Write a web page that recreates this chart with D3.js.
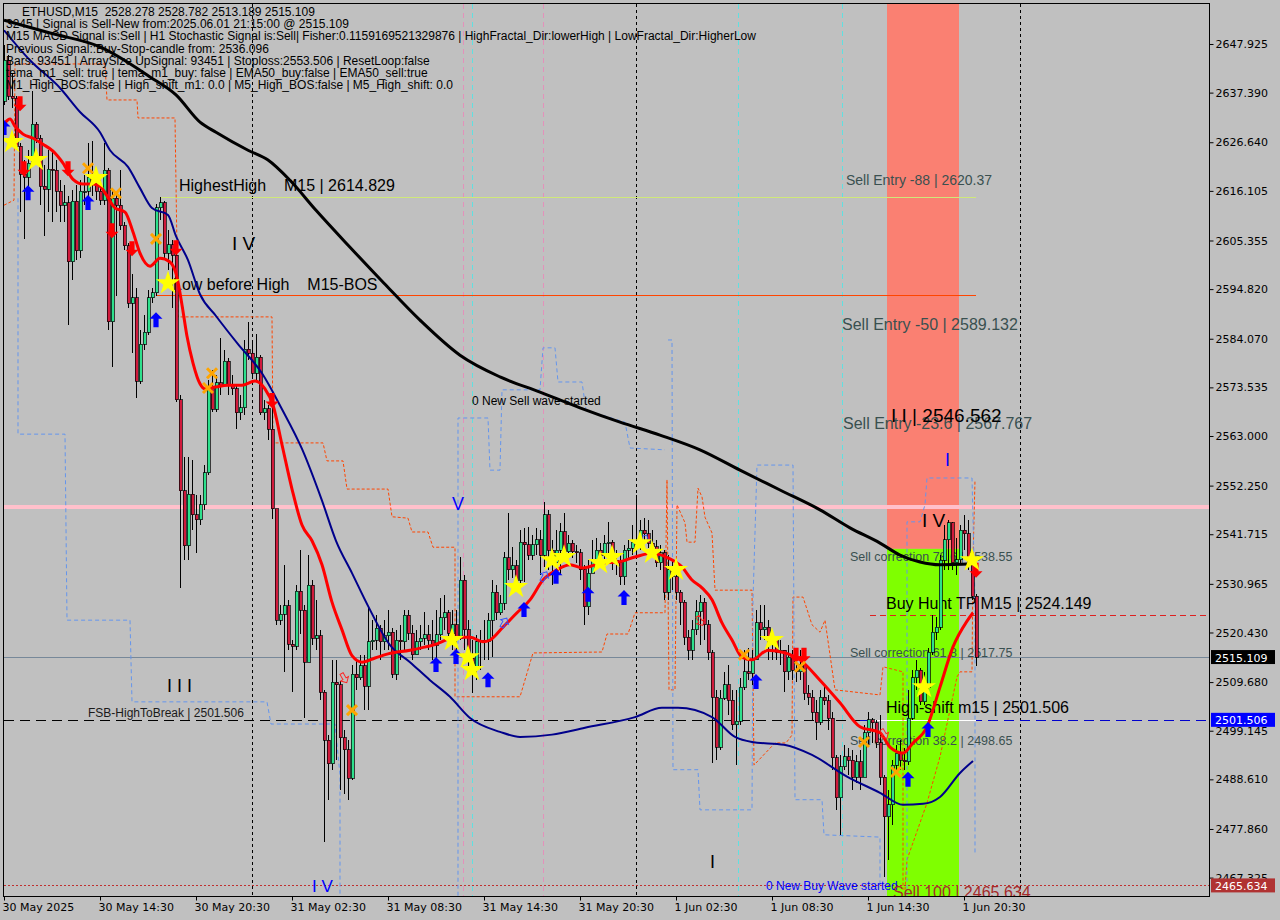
<!DOCTYPE html>
<html><head><meta charset="utf-8">
<script src="https://cdn.jsdelivr.net/npm/d3@7"></script>
<style>
html,body{margin:0;padding:0;background:#c0c0c0;}
svg{display:block;}
text{white-space:pre;}
</style></head>
<body><svg id="c" width="1280" height="920"></svg>
<script>
// ---------------- DATA ----------------
const firstOpen = 2635.5;
const closes = [2644.4,2636.6,2636.2,2625.8,2619.7,2619.1,2622.1,2630.5,2627.5,2617.1,
2616.5,2620.8,2620.6,2616.0,2613.0,2613.5,2600.7,2613.9,2603.1,2616.0,
2616.0,2619.1,2617.6,2616.0,2614.1,2620.6,2587.7,2614.5,2613.0,2608.5,
2604.2,2591.8,2592.9,2574.9,2582.9,2585.5,2592.9,2594.0,2612.4,2613.5,
2602.6,2604.4,2602.2,2570.8,2551.1,2539.2,2550.4,2545.9,2544.8,2548.1,
2555.0,2573.2,2568.8,2574.5,2574.0,2579.2,2574.0,2573.2,2568.0,2569.1,
2581.8,2580.9,2576.6,2580.1,2568.0,2568.9,2564.5,2547.2,2523.1,2524.4,
2526.2,2517.9,2517.5,2529.4,2525.3,2514.0,2530.7,2519.2,2519.7,2507.5,
2497.1,2492.0,2509.7,2509.1,2497.6,2495.0,2488.9,2511.4,2510.6,2513.2,
2508.8,2518.4,2518.8,2521.4,2518.4,2519.7,2520.5,2511.4,2518.8,2518.4,
2524.2,2520.3,2515.6,2518.4,2519.2,2519.9,2518.8,2517.7,2519.9,2523.6,
2524.7,2520.3,2522.1,2519.2,2531.8,2521.0,2514.9,2513.0,2518.4,2518.8,
2518.4,2523.1,2529.2,2524.7,2526.8,2536.6,2534.0,2534.9,2531.8,2540.0,
2539.4,2537.2,2539.4,2540.5,2537.2,2545.9,2538.3,2535.7,2538.3,2542.2,
2537.9,2539.8,2537.9,2537.7,2534.0,2526.0,2533.3,2536.1,2538.3,2537.2,
2539.8,2540.0,2536.1,2535.5,2532.5,2538.3,2538.7,2540.0,2539.4,2542.6,
2541.8,2539.8,2539.0,2535.5,2537.7,2529.2,2534.0,2532.5,2529.2,2527.0,
2519.4,2516.6,2521.0,2524.9,2527.0,2522.1,2516.0,2506.4,2495.6,2506.2,
2509.1,2505.8,2500.4,2501.2,2508.6,2511.9,2511.6,2514.5,2522.5,2521.0,
2521.6,2518.2,2518.8,2516.2,2516.6,2511.9,2515.1,2512.3,2511.9,2513.4,
2507.3,2506.4,2503.2,2501.0,2506.4,2505.6,2501.9,2493.3,2484.6,2491.3,
2493.5,2492.7,2489.1,2492.4,2489.1,2498.7,2501.5,2500.9,2496.5,2489.1,
2480.5,2483.1,2491.7,2494.3,2492.8,2492.4,2501.9,2510.6,2512.3,2505.4,
2508.6,2516.2,2520.5,2521.6,2536.1,2540.5,2544.2,2535.5,2536.2,2542.6,
2541.8,2535.1,2528.3,2515.109];
const highs = [2647.7,2645.5,2641.4,2636.6,2626.4,2622.8,2624.9,2637.7,2631.0,2628.2,
2621.7,2624.9,2624.9,2622.8,2618.4,2617.4,2615.0,2616.3,2617.4,2618.4,
2619.5,2626.4,2626.9,2619.5,2618.4,2626.4,2621.0,2616.3,2615.8,2620.6,
2609.3,2604.8,2598.1,2595.0,2585.9,2589.2,2594.6,2595.0,2613.3,2614.8,
2614.0,2607.6,2605.5,2603.0,2571.9,2558.4,2558.4,2557.8,2550.2,2550.2,
2556.7,2575.1,2577.3,2576.2,2584.2,2581.6,2579.9,2576.2,2574.0,2571.9,
2583.8,2587.7,2583.8,2585.1,2580.5,2570.8,2569.7,2571.4,2547.2,2526.4,
2535.1,2527.5,2518.8,2530.7,2538.3,2526.4,2537.2,2531.8,2527.5,2521.0,
2508.0,2498.2,2514.5,2514.5,2510.0,2499.3,2497.1,2513.4,2514.5,2515.6,
2515.6,2525.7,2523.1,2524.2,2522.1,2523.1,2525.3,2521.4,2521.0,2522.1,
2525.3,2525.3,2522.1,2521.0,2522.1,2524.9,2522.1,2523.1,2525.3,2527.9,
2528.6,2525.3,2525.3,2525.3,2536.8,2532.9,2523.1,2518.8,2519.9,2521.0,
2523.1,2524.6,2531.8,2530.7,2528.6,2537.9,2546.3,2538.9,2536.1,2542.6,
2543.1,2543.3,2541.6,2543.1,2542.6,2548.7,2547.0,2540.5,2542.6,2544.1,
2546.3,2541.6,2540.5,2539.4,2538.5,2535.1,2536.1,2540.5,2540.9,2539.8,
2541.6,2544.4,2540.5,2538.3,2537.2,2539.4,2540.5,2543.7,2550.2,2544.8,
2545.2,2544.8,2542.6,2540.5,2539.4,2538.3,2537.2,2536.1,2534.0,2529.6,
2527.5,2521.0,2523.1,2527.5,2528.6,2527.9,2523.1,2516.6,2508.0,2508.0,
2511.9,2513.4,2508.0,2508.0,2510.6,2516.6,2517.1,2516.6,2525.3,2526.4,
2526.4,2523.1,2521.0,2518.8,2518.8,2516.6,2517.7,2516.6,2515.6,2516.6,
2513.4,2509.1,2508.0,2505.8,2508.0,2509.1,2506.9,2503.2,2493.9,2493.9,
2496.1,2495.4,2495.0,2493.9,2495.0,2500.4,2503.2,2501.9,2501.5,2502.6,
2489.6,2486.3,2492.8,2496.1,2497.1,2495.4,2508.0,2512.3,2514.5,2512.7,
2511.9,2517.1,2524.2,2523.8,2537.2,2543.7,2544.8,2544.4,2540.9,2543.7,
2545.9,2544.8,2536.1,2528.782];
const lows = [2634.7,2635.8,2634.0,2624.9,2611.5,2605.6,2614.5,2621.7,2626.4,2613.0,
2606.3,2611.5,2609.3,2611.5,2609.3,2609.3,2587.0,2596.8,2601.1,2601.5,
2613.0,2613.0,2615.0,2614.1,2613.0,2613.0,2586.0,2577.9,2593.3,2607.6,
2603.3,2590.7,2581.0,2571.2,2574.2,2581.6,2584.9,2591.8,2593.3,2609.8,
2601.5,2598.9,2590.7,2570.3,2530.1,2536.1,2536.1,2542.6,2537.6,2543.7,
2547.0,2554.6,2568.2,2568.2,2571.9,2574.0,2571.9,2571.9,2564.5,2566.5,
2567.5,2579.5,2575.5,2575.1,2567.5,2566.5,2562.1,2545.0,2522.1,2522.1,
2511.9,2516.6,2507.5,2516.6,2520.1,2501.9,2514.0,2517.7,2516.6,2505.8,
2475.1,2484.2,2490.7,2492.8,2486.3,2485.5,2484.2,2488.5,2508.0,2510.1,
2503.6,2503.6,2516.6,2516.6,2514.5,2516.6,2516.6,2510.6,2510.1,2514.5,
2516.6,2518.8,2514.5,2515.6,2516.6,2517.7,2516.6,2514.5,2514.5,2518.8,
2521.0,2518.8,2516.6,2514.5,2518.8,2516.6,2511.9,2507.3,2510.1,2512.3,
2514.5,2514.5,2515.1,2523.1,2524.2,2525.3,2531.8,2532.2,2530.7,2530.7,
2531.4,2536.1,2536.1,2537.2,2532.9,2534.6,2534.0,2530.7,2531.4,2532.9,
2536.1,2537.2,2536.6,2535.5,2531.8,2522.1,2524.2,2533.3,2534.0,2535.7,
2536.1,2537.2,2534.0,2532.9,2530.7,2530.7,2536.6,2537.2,2537.2,2538.3,
2540.5,2538.7,2537.2,2534.6,2534.0,2527.5,2527.5,2529.6,2527.5,2522.1,
2517.7,2514.5,2514.5,2519.9,2517.7,2518.8,2514.5,2492.2,2492.8,2495.0,
2505.8,2502.6,2499.3,2491.7,2500.4,2508.0,2510.1,2509.1,2514.5,2518.8,
2518.8,2514.5,2514.5,2514.5,2513.4,2507.5,2510.1,2510.1,2509.7,2510.1,
2505.8,2504.7,2501.5,2497.1,2500.4,2504.7,2499.3,2490.7,2482.0,2476.6,
2490.7,2489.6,2486.3,2487.8,2486.3,2491.7,2496.1,2496.5,2495.4,2487.4,
2467.5,2471.2,2478.7,2490.7,2490.7,2490.7,2491.7,2501.5,2508.0,2504.7,
2504.7,2508.0,2515.6,2518.8,2521.0,2534.0,2534.0,2534.0,2532.9,2535.1,
2538.3,2534.0,2527.5,2513.189];

const priceTicks = [2647.925,2637.390,2626.640,2616.105,2605.355,2594.820,2584.070,2573.535,2563.000,
2552.250,2541.715,2530.965,2520.430,2509.680,2499.145,2488.610,2477.860,2467.325];
const timeTickBars = [0,24,48,72,96,120,144,168,192,216,240];
const timeLabels = ["30 May 2025","30 May 14:30","30 May 20:30","31 May 02:30","31 May 08:30",
"31 May 14:30","31 May 20:30","1 Jun 02:30","1 Jun 08:30","1 Jun 14:30","1 Jun 20:30"];
const daySeparatorBars = [62,158,254];
const pinkMarkerBars = [114.75,134.75];
const cyanMarkerBars = [117,183.5,209.5];

// moving averages as [bar, value]
const emaSlow = [[0,2653.1],[11.5,2650.3],[24,2647.3],[36.5,2640.8],[43,2636.9],[49,2631.0],[53,2628.8],
[61,2624.9],[66,2622.8],[71.5,2618.4],[78,2611.9],[86.5,2603.9],[95,2596.1],[104,2588.1],[114,2580.5],
[124,2575.8],[134,2572.5],[144,2569.1],[154,2566.0],[164,2563.2],[174,2560.0],[184,2555.6],[194,2551.3],
[204,2547.0],[211.5,2543.1],[219,2539.8],[224,2537.2],[229,2535.7],[234,2535.1],[242,2535.3]];
const emaMid = [[0,2650.9],[6.5,2644.4],[14,2638.4],[19,2633.2],[24,2628.8],[26.5,2624.9],[31,2621.3],
[34,2616.7],[37,2612.4],[41,2610.9],[43,2606.3],[46,2601.1],[49,2593.7],[53,2589.0],[58.5,2582.9],
[64.5,2576.6],[69.5,2568.8],[74.5,2560.2],[79.5,2549.0],[83,2540.3],[87,2533.3],[91,2526.2],
[96.5,2517.7],[101.5,2514.0],[106.5,2510.1],[111.5,2506.5],[116.5,2501.9],[124,2498.9],[129,2497.8],
[137,2498.3],[145.25,2499.8],[157.75,2502.1],[164.5,2504.1],[168.5,2504.1],[177,2502.1],[182.75,2497.8],
[187,2496.7],[195,2496.1],[202,2493.9],[210.75,2489.2],[219,2485.7],[224.75,2483.1],[229.75,2483.3],
[234,2484.8],[239,2490.0],[242.25,2492.6]];
const emaFast = [[0,2630.6],[1.5,2631.7],[2.75,2630.1],[4.75,2628.4],[7.25,2627.5],[9.75,2626.2],
[12.25,2624.7],[14.75,2622.1],[17.25,2618.6],[19.75,2617.6],[22.25,2617.6],[24,2617.1],[25.75,2615.0],
[27.75,2612.4],[30.25,2611.5],[32.25,2607.2],[34,2602.6],[36.5,2599.8],[39,2601.5],[41.5,2600.7],
[43.25,2597.4],[44.5,2591.4],[45.75,2584.6],[47.25,2578.8],[49,2574.3],[50.25,2573.2],[52.75,2573.6],
[56,2574.0],[59.5,2574.0],[62.75,2574.9],[65.25,2573.2],[67.25,2569.7],[69.5,2561.1],[72,2551.5],
[74.5,2543.7],[77,2540.3],[79.5,2535.1],[82,2527.0],[84.5,2521.0],[87,2515.4],[89.5,2514.0],
[92.75,2514.9],[96,2515.8],[101.5,2516.6],[107.25,2517.7],[113.25,2519.4],[116.5,2519.4],
[119.75,2518.4],[121.5,2518.8],[124.75,2521.6],[128.25,2524.7],[131.5,2527.5],[134.75,2531.8],
[138.25,2534.0],[141.5,2535.1],[144.75,2534.4],[149.5,2535.5],[153.5,2535.7],[157.75,2536.8],
[162,2537.6],[166,2536.6],[169.5,2534.6],[172,2531.8],[174.5,2530.1],[177,2527.5],[179.5,2522.5],
[182,2518.8],[184.5,2515.1],[187,2514.5],[191,2516.6],[195.25,2516.0],[199,2514.5],[204,2510.1],
[209,2505.2],[214,2500.0],[219,2498.7],[221.5,2495.6],[224.75,2494.3],[227.25,2496.5],[230.75,2500.0],
[234,2508.6],[237.25,2517.3],[240.75,2522.9],[242.25,2524.7]];

// step bands [bar, price]
const orangeStepsA = [[0,2613.0],[2.5,2614.1],[2.75,2643.6],[25.25,2643.6],[25.75,2635.8],[33.25,2635.8],
[33.5,2631.9],[42.75,2631.9],[43.5,2588.8],[67,2588.8],[67.25,2561.5],[79.75,2561.5],[80.75,2557.6],
[84.75,2557.6],[85.75,2551.5],[96,2551.5],[97,2545.5],[101,2545.2],[102,2542.2],[106,2542.2],
[107.25,2538.9],[112.75,2538.9],[112.75,2506.5],[129,2506.5],[132.25,2516.0],[149.5,2516.2],
[150.75,2520.1],[156,2520.1],[157.75,2524.7],[165.25,2524.7],[165.75,2553.5],[166.25,2508.0],
[167.75,2508.0],[168.25,2548.1],[170.25,2544.2],[170.75,2540.0],[172.75,2540.0],[173.5,2551.7],
[174.5,2549.8],[175.25,2545.4],[177,2542.0],[177.75,2529.6],[187,2529.6],[187.5,2491.7],
[192.75,2496.5],[195.5,2496.5],[197,2498.2],[197.25,2528.1],[199.75,2528.1],[202,2522.1],
[204,2520.5],[205.25,2523.1],[206.5,2515.6],[207.75,2508.0],[219,2506.9],[219.75,2513.0],
[224.75,2511.9],[224.75,2464.7]];
const orangeStepsB = [[225.25,2464.7],[225.75,2471.2],[230.75,2483.5],[234,2493.5],[238.25,2510.8],
[239,2511.9],[242,2511.9],[242.25,2536.1],[242.75,2553.5]];
const blueStepsA = [[3.5,2614.5],[3.5,2563.4],[15.25,2563.4],[15.75,2523.1],[31.5,2523.1],[32,2505.4],
[65.75,2505.4],[66.75,2500.6],[82.75,2500.6],[84,2489.6],[84,2463.4]];
const blueStepsB = [[113.5,2463.4],[113.5,2566.9],[121,2566.9],[121.5,2555.6],[124,2555.6],[124.5,2573.0],
[134,2573.0],[134.75,2582.1],[137.75,2582.1],[138.5,2574.7],[144.5,2574.7],[145.5,2568.6],
[155.25,2566.0],[156.5,2560.4],[165.25,2560.0]];
const blueStepsC = [[166,2583.8],[167,2583.8],[167.25,2490.7],[173.5,2490.7],[174,2482.0],[187,2482.0],
[187.25,2527.5],[188.25,2556.7],[197.25,2556.7],[197.75,2484.2],[204.5,2484.2],[205,2476.6],
[219,2476.1],[219,2465.7]];
const blueStepsD = [[225.75,2463.4],[225.75,2544.4],[229,2544.4],[230.25,2548.1],[230.75,2553.9],
[242,2553.9],[242.75,2527.5],[242.75,2472.7]];

// signals [bar, price]
const buyArrows = [[0,2629.7],[6,2615.6],[21,2613.5],[38,2588.1],[108,2513.4],[113,2515.1],[121,2510.1],
[130,2525.3],[138,2532.5],[146,2528.6],[155,2527.9],[188,2509.7],[226,2488.5],[231,2499.3]];
const sellArrows = [[4,2635.1],[5,2621.0],[16,2621.0],[27,2607.6],[32,2603.7],[43,2603.9],[67,2570.8],
[198,2515.6],[200,2515.6],[243,2534.0]];
const smallSellArrows = [[85,2510.6],[174,2523.0],[220,2498.5]];
const smallBuyArrows = [[125,2522.5],[135,2532.5],[160,2540.5]];
const starSignals = [[2,2626.7],[8,2622.8],[23,2618.9],[41,2596.1],[112,2518.8],[116,2515.1],[117,2512.3],
[128,2530.3],[137,2536.1],[140,2536.8],[149,2535.5],[152,2536.8],[159,2539.8],[162,2537.7],[168,2534.0],
[192,2518.8],[230,2508.6],[242,2536.1]];
const crossSignals = [[21,2621.0],[28,2615.6],[38,2605.7],[52,2576.6],[51,2573.4],[87,2503.6],[185,2515.6],
[199,2513.0],[215,2496.7],[223,2490.2]];

// levels
const pinkLevel = 2547.6;
const highestHigh = 2614.829;
const lowBeforeHigh = 2593.6;
const fsbHigh = 2501.506;
const buyHuntTP = 2524.149;
const sell100 = 2465.634;
const zoneSplit = 2538.55;
const zoneBars = [220.75, 238.75];
const lastPrice = 2515.109;

const headerLines = [
"ETHUSD,M15  2528.278 2528.782 2513.189 2515.109",
"3245 | Signal is Sell-New from:2025.06.01 21:15:00 @ 2515.109",
"M15 MACD Signal is:Sell | H1 Stochastic Signal is:Sell| Fisher:0.1159169521329876 | HighFractal_Dir:lowerHigh | LowFractal_Dir:HigherLow",
"Previous Signal::Buy-Stop-candle from: 2536.096",
"Bars: 93451 | ArraySize UpSignal: 93451 | Stoploss:2553.506 | ResetLoop:false",
"tema_m1_sell: true | tema_m1_buy: false | EMA50_buy:false | EMA50_sell:true",
"M1_High_BOS:false | High_shift_m1: 0.0 | M5_High_BOS:false | M5_High_shift: 0.0"];

// ---------------- DRAW ----------------
const svg = d3.select("#c");
const W = 1280, H = 920, L = 4, R = 1209, T = 4, B = 896;
const x = d3.scaleLinear().domain([0, 243]).range([4, 976]);
const y = d3.scaleLinear().domain([2463.34, 2656.59]).range([B, T]);

svg.append("rect").attr("width", W).attr("height", H).attr("fill", "#c0c0c0");
svg.append("defs").append("clipPath").attr("id", "plot")
  .append("rect").attr("x", L).attr("y", T).attr("width", R - L).attr("height", B - T);
const g = svg.append("g").attr("clip-path", "url(#plot)");

// zones
g.append("rect").attr("x", x(zoneBars[0])).attr("width", x(zoneBars[1]) - x(zoneBars[0]))
  .attr("y", T).attr("height", y(zoneSplit) - T).attr("fill", "#fa8072");
g.append("rect").attr("x", x(zoneBars[0])).attr("width", x(zoneBars[1]) - x(zoneBars[0]))
  .attr("y", y(zoneSplit)).attr("height", B - y(zoneSplit)).attr("fill", "#7fff00");

// vertical markers
daySeparatorBars.forEach(b => g.append("line").attr("x1", Math.round(x(b)) + 0.5).attr("x2", Math.round(x(b)) + 0.5)
  .attr("y1", T).attr("y2", B).attr("stroke", "#000").attr("stroke-dasharray", "3,3"));
pinkMarkerBars.forEach(b => g.append("line").attr("x1", Math.round(x(b)) + 0.5).attr("x2", Math.round(x(b)) + 0.5)
  .attr("y1", T).attr("y2", B).attr("stroke", "#ff69b4").attr("stroke-opacity", 0.55).attr("stroke-dasharray", "5,4"));
cyanMarkerBars.forEach(b => g.append("line").attr("x1", Math.round(x(b)) + 0.5).attr("x2", Math.round(x(b)) + 0.5)
  .attr("y1", T).attr("y2", B).attr("stroke", "#00ffff").attr("stroke-opacity", 0.5).attr("stroke-dasharray", "5,4"));

// horizontal levels
function hline(p, x1, x2, color, w, dash) {
  const yy = Math.round(y(p)) + (w % 2 ? 0.5 : 0);
  const l = g.append("line").attr("x1", x1).attr("x2", x2).attr("y1", yy).attr("y2", yy)
    .attr("stroke", color).attr("stroke-width", w);
  if (dash) l.attr("stroke-dasharray", dash);
}
hline(pinkLevel, L, R, "#ffc0cb", 4);
hline(highestHigh, x(39), x(243), "#cfe87a", 1);
hline(lowBeforeHigh, x(38), x(243), "#ff4500", 1);
hline(lastPrice, L, R, "#778899", 1);
hline(fsbHigh, L, x(214), "#000000", 1, "10,6");
hline(fsbHigh, x(214), R, "#0000cd", 1, "10,6");
hline(fsbHigh, x(216.5), x(243), "#ffffff", 1);
hline(buyHuntTP, x(216.5), R, "#dd2020", 1, "6,4");
hline(sell100, L, R, "#c03030", 1, "2,2");

// step lines
const stepLine = d3.line().x(d => x(d[0])).y(d => y(d[1]));
[[orangeStepsA, "#ff4500"], [orangeStepsB, "#ff4500"]].forEach(([d, c]) =>
  g.append("path").attr("d", stepLine(d)).attr("fill", "none").attr("stroke", c).attr("stroke-width", 1).attr("stroke-dasharray", "3,2"));
[blueStepsA, blueStepsB, blueStepsC, blueStepsD].forEach(d =>
  g.append("path").attr("d", stepLine(d)).attr("fill", "none").attr("stroke", "#6495ed").attr("stroke-width", 1).attr("stroke-dasharray", "4,3"));

// annotation texts (under candles)
const annot = [
 ["HighestHigh    M15 | 2614.829", 43.75, 2616.1, 16, "#000"],
 ["Low before High    M15-BOS", 42.25, 2594.6, 16, "#000"],
 ["I V", 57, 2603.3, 19, "#000"],
 ["I I I", 40.75, 2507.6, 18, "#000"],
 ["FSB-HighToBreak | 2501.506", 21, 2502.1, 12, "#1a1a1a"],
 ["0 New Sell wave started", 117, 2569.7, 12, "#000"],
 ["V", 112, 2547.0, 18, "#0000ff"],
 ["Sell Entry -88 | 2620.37", 210.5, 2617.4, 14, "#3a5050"],
 ["Sell Entry -50 | 2589.132", 209.5, 2586.0, 16, "#3a5050"],
 ["Sell Entry -23.6 | 2567.767", 209.75, 2564.5, 16, "#3a5050"],
 ["I I | 2546.562", 221.75, 2566.0, 19, "#000"],
 ["I", 235.25, 2556.5, 18, "#0000ff"],
 ["I V", 229.5, 2543.3, 19, "#000"],
 ["Sell correction 78.6 | 2538.55", 211.5, 2535.9, 12.5, "#3a5050"],
 ["Buy Hunt TP M15 | 2524.149", 220.5, 2525.5, 16, "#000"],
 ["Sell correction 61.8 | 2517.75", 211.5, 2515.1, 12.5, "#3a5050"],
 ["High-shift m15 | 2501.506", 220.5, 2503.0, 16, "#000"],
 ["Sell correction 38.2 | 2498.65", 211.5, 2496.1, 12.5, "#3a5050"],
 ["I", 176.5, 2469.4, 18, "#000"],
 ["I V", 77, 2464.2, 17, "#0000ff"],
 ["0 New Buy Wave started", 190.5, 2464.7, 12, "#0000ff"],
 ["Sell 100 | 2465.634", 222.25, 2462.9, 16, "#a52a2a"]
];
g.selectAll("text.annot").data(annot).enter().append("text").attr("class", "annot")
  .attr("x", d => x(d[1])).attr("y", d => y(d[2]))
  .attr("font-family", "Liberation Sans, Arial, sans-serif").attr("font-size", d => d[3])
  .attr("fill", d => d[4]).text(d => d[0]);

// candles
const candles = closes.map((c, i) => {
  const o = i === 0 ? firstOpen : closes[i - 1];
  return { i, o, c, h: Math.max(highs[i], o, c), l: Math.min(lows[i], o, c) };
});
const cg = g.append("g").attr("shape-rendering", "crispEdges");
candles.forEach(d => {
  const cx = Math.round(x(d.i));
  cg.append("line").attr("x1", cx + 0.5).attr("x2", cx + 0.5).attr("y1", y(d.h)).attr("y2", y(d.l))
    .attr("stroke", "#000").attr("stroke-width", 1);
  const top = y(Math.max(d.o, d.c)), bot = y(Math.min(d.o, d.c));
  cg.append("rect").attr("x", cx - 1).attr("width", 3).attr("y", top).attr("height", Math.max(1, bot - top))
    .attr("fill", d.c >= d.o ? "#2ee08c" : "#d01a3c").attr("stroke", "#000").attr("stroke-width", 0.7);
});

// moving averages
const maLine = d3.line().x(d => x(d[0])).y(d => y(d[1])).curve(d3.curveMonotoneX);
g.append("path").attr("d", maLine(emaSlow)).attr("fill", "none").attr("stroke", "#000").attr("stroke-width", 3);
g.append("path").attr("d", maLine(emaMid)).attr("fill", "none").attr("stroke", "#00008b").attr("stroke-width", 2);
g.append("path").attr("d", maLine(emaFast)).attr("fill", "none").attr("stroke", "#ff0000").attr("stroke-width", 3);

// signals
const upArrowPath = "M0,-8 L6.5,-1.5 L2.6,-1.5 L2.6,7 L-2.6,7 L-2.6,-1.5 L-6.5,-1.5 Z";
const downArrowPath = "M0,8 L6.5,1.5 L2.6,1.5 L2.6,-7 L-2.6,-7 L-2.6,1.5 L-6.5,1.5 Z";
g.selectAll("path.buy").data(buyArrows).enter().append("path").attr("class", "buy")
  .attr("d", upArrowPath).attr("transform", d => `translate(${x(d[0])},${y(d[1])})`).attr("fill", "#0000ff");
g.selectAll("path.sell").data(sellArrows).enter().append("path").attr("class", "sell")
  .attr("d", downArrowPath).attr("transform", d => `translate(${x(d[0])},${y(d[1])})`).attr("fill", "#ff0000");
g.selectAll("path.ssell").data(smallSellArrows).enter().append("path").attr("class", "ssell")
  .attr("d", downArrowPath).attr("transform", d => `translate(${x(d[0])},${y(d[1])}) scale(0.7) rotate(-30)`)
  .attr("fill", "none").attr("stroke", "#ff2020").attr("stroke-width", 1.3);
g.selectAll("path.sbuy").data(smallBuyArrows).enter().append("path").attr("class", "sbuy")
  .attr("d", upArrowPath).attr("transform", d => `translate(${x(d[0])},${y(d[1])}) scale(0.7) rotate(30)`)
  .attr("fill", "none").attr("stroke", "#3050ff").attr("stroke-width", 1.3);
const starSym = d3.symbol().type(d3.symbolStar).size(180);
g.selectAll("path.star").data(starSignals).enter().append("path").attr("class", "star")
  .attr("d", starSym).attr("transform", d => `translate(${x(d[0])},${y(d[1])})`).attr("fill", "#ffff00");
const crossG = g.selectAll("g.cross").data(crossSignals).enter().append("g")
  .attr("transform", d => `translate(${x(d[0])},${y(d[1])})`);
crossG.append("path").attr("d", "M-5,-5L5,5M5,-5L-5,5").attr("stroke", "#ffa500").attr("stroke-width", 3).attr("fill", "none");

// header
svg.selectAll("text.hdr").data(headerLines).enter().append("text").attr("class", "hdr")
  .attr("x", (d, i) => i === 0 ? 22 : 6).attr("y", (d, i) => 16 + i * 12.2)
  .attr("font-family", "Liberation Sans, Arial, sans-serif").attr("font-size", 12).attr("fill", "#000").text(d => d);

// frame
svg.append("rect").attr("x", L - 0.5).attr("y", T - 0.5).attr("width", R - L + 1).attr("height", B - T + 1)
  .attr("fill", "none").attr("stroke", "#000").attr("stroke-width", 1);

// right axis
const yAxis = d3.axisRight(y).tickValues(priceTicks).tickFormat(d3.format(".3f")).tickSize(4).tickSizeOuter(0);
const ya = svg.append("g").attr("transform", `translate(${R + 0.5},0)`).call(yAxis);
ya.select(".domain").remove();
ya.selectAll("text").attr("font-family", "DejaVu Sans, sans-serif").attr("font-size", 11).attr("fill", "#000").attr("x", 6);
ya.selectAll("line").attr("stroke", "#000");

// price badges
[[lastPrice, "#000000"], [fsbHigh, "#0000ff"], [sell100, "#b03232"]].forEach(([p, c]) => {
  const yy = y(p);
  svg.append("rect").attr("x", R + 2).attr("y", yy - 7).attr("width", 64).attr("height", 14).attr("fill", c);
  svg.append("text").attr("x", R + 6).attr("y", yy + 4.5).attr("font-family", "DejaVu Sans, sans-serif")
    .attr("font-size", 11).attr("fill", "#fff").text(d3.format(".3f")(p));
});

// bottom axis
const xAxis = d3.axisBottom(x).tickValues(timeTickBars).tickFormat((d, i) => timeLabels[i]).tickSize(4).tickSizeOuter(0);
const xa = svg.append("g").attr("transform", `translate(0,${B + 0.5})`).call(xAxis);
xa.select(".domain").remove();
xa.selectAll("text").attr("font-family", "DejaVu Sans, sans-serif").attr("font-size", 11).attr("fill", "#000")
  .attr("text-anchor", "start").attr("dx", -2);
xa.selectAll("line").attr("stroke", "#000");
</script></body></html>
